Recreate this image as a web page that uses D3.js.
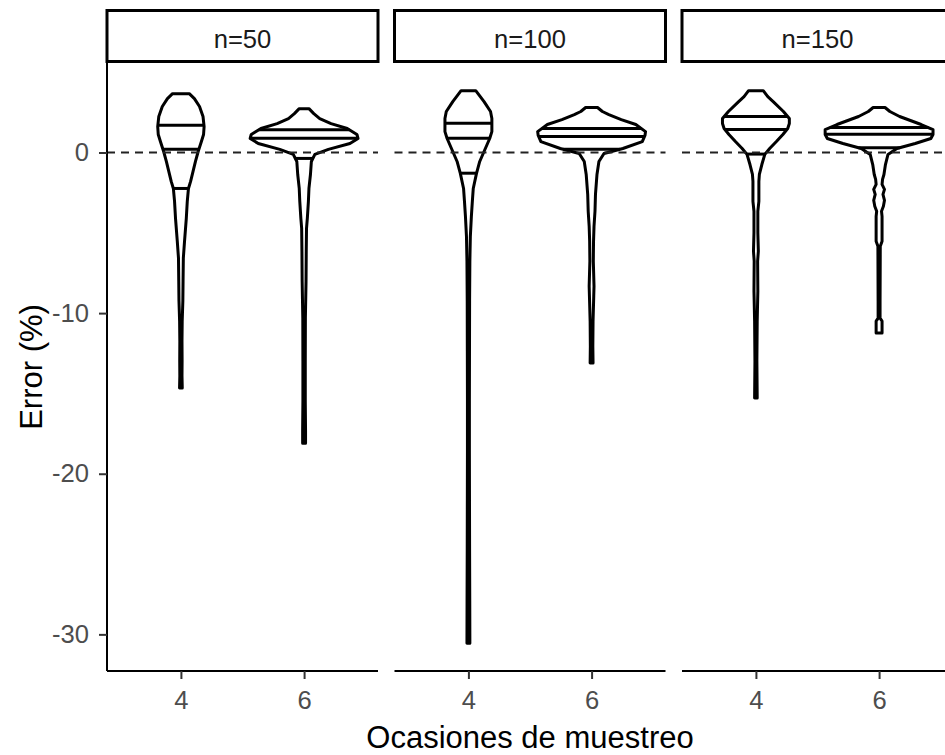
<!DOCTYPE html>
<html>
<head>
<meta charset="utf-8">
<script src="https://cdn.jsdelivr.net/npm/d3@7"></script>
<style>
  body { margin: 0; background: #fff; }
  text { font-family: "Liberation Sans", Arial, sans-serif; }
</style>
</head>
<body>
<svg id="chart" width="945" height="755"></svg>
<script>
// Facets (sample size) and x categories (sampling occasions)
const panels = ["n=50", "n=100", "n=150"];
const occasions = ["4", "6"];
const yTicks = [0, -10, -20, -30];

// Violin outlines: [error %, relative density (1 = widest violin)]
const profile_n50_4 = [[3.66,.155],[3.35,.25],[2.86,.345],[2.24,.41],[1.61,.43],[1.12,.42],[0.68,.38],[0.06,.32],[-0.56,.27],[-1.18,.225],[-1.80,.18],[-2.24,.14],[-3.04,.118],[-4.10,.10],[-5.53,.067],[-6.58,.045],[-8.01,.04],[-9.25,.036],[-10.5,.024],[-11.74,.02],[-12.98,.022],[-13.9,.02],[-14.66,.025]];
const profile_n50_6 = [[2.73,.09],[2.42,.18],[2.11,.29],[1.80,.50],[1.49,.80],[1.12,.98],[0.87,1.0],[0.56,.85],[0.19,.45],[-0.12,.20],[-0.56,.135],[-1.37,.118],[-2.24,.09],[-3.04,.08],[-4.10,.06],[-4.72,.045],[-6.15,.04],[-8.01,.036],[-10.31,.024],[-12.98,.022],[-15.47,.022],[-17.33,.027],[-18.1,.027]];
const profile_n100_4 = [[3.85,.136],[3.48,.22],[3.17,.29],[2.55,.41],[2.11,.435],[1.30,.435],[0.87,.395],[0.06,.29],[-0.56,.21],[-1.30,.15],[-2.24,.09],[-3.04,.073],[-3.98,.055],[-5.22,.036],[-6.77,.027],[-9.25,.022],[-12.36,.02],[-15.47,.018],[-18.57,.018],[-21.68,.02],[-24.78,.022],[-27.89,.025],[-30.56,.027]];
const profile_n100_6 = [[2.80,.11],[2.55,.20],[2.36,.32],[2.05,.55],[1.74,.82],[1.30,1.0],[1.06,.99],[0.68,.94],[0.25,.58],[-0.06,.23],[-0.56,.136],[-1.37,.10],[-2.61,.072],[-3.66,.063],[-4.60,.045],[-5.53,.036],[-6.77,.032],[-8.32,.045],[-8.94,.04],[-10.5,.027],[-12.05,.023],[-13.1,.027]];
const profile_n150_4 = [[3.85,.136],[3.48,.22],[3.17,.32],[2.55,.51],[2.11,.62],[1.80,.62],[1.49,.59],[1.12,.50],[0.68,.38],[0.25,.255],[-0.12,.165],[-0.75,.11],[-1.37,.064],[-1.80,.055],[-3.04,.055],[-3.66,.036],[-5.0,.036],[-6.15,.045],[-6.77,.032],[-8.63,.036],[-10.5,.024],[-12.98,.018],[-15.28,.024]];
const profile_n150_6 = [[2.80,.11],[2.55,.20],[2.24,.38],[1.99,.58],[1.74,.78],[1.43,1.0],[1.12,1.0],[0.87,.96],[0.56,.67],[0.25,.33],[-0.12,.165],[-0.75,.118],[-1.37,.09],[-1.68,.064],[-1.99,.055],[-2.30,.10],[-2.61,.072],[-2.98,.10],[-3.35,.08],[-3.66,.045],[-3.98,.055],[-5.53,.055],[-5.84,.022],[-9.25,.018],[-10.31,.018],[-10.5,.055],[-11.24,.055]];

// Quartiles (25%, 50%, 75%) drawn across each violin
const quant_n50_4 = [-2.24, 0.2, 1.7];
const quant_n50_6 = [-0.37, 0.89, 1.41];
const quant_n100_4 = [-1.29, 0.89, 1.82];
const quant_n100_6 = [0.2, 0.99, 1.49];
const quant_n150_4 = [-0.1, 1.43, 2.24];
const quant_n150_6 = [0.3, 1.14, 1.55];

const violins = [
  { panel: "n=50",  occ: "4", profile: profile_n50_4,  quant: quant_n50_4 },
  { panel: "n=50",  occ: "6", profile: profile_n50_6,  quant: quant_n50_6 },
  { panel: "n=100", occ: "4", profile: profile_n100_4, quant: quant_n100_4 },
  { panel: "n=100", occ: "6", profile: profile_n100_6, quant: quant_n100_6 },
  { panel: "n=150", occ: "4", profile: profile_n150_4, quant: quant_n150_4 },
  { panel: "n=150", occ: "6", profile: profile_n150_6, quant: quant_n150_6 }
];

// Layout
const panelLeft = 107, panelWidth = 271, panelGap = 16.5;
const panelTop = 63, panelBottom = 671;
const stripTop = 10.5, stripBottom = 61.5;
const lineW = 3;

const svg = d3.select("#chart");

const panelX = d3.scaleBand().domain(panels)
  .range([panelLeft, panelLeft + 3 * panelWidth + 2 * panelGap])
  .paddingInner(panelGap / (panelWidth + panelGap)).paddingOuter(0);

const x = d3.scalePoint().domain(occasions).range([0, panelWidth]).padding(0.6);
const w = d3.scaleLinear().domain([0, 1]).range([0, 0.45 * x.step() - lineW / 2]);

const allVals = violins.flatMap(v => v.profile.map(p => p[0]));
const [lo, hi] = d3.extent(allVals);
const pad = (hi - lo) * 0.05;
const y = d3.scaleLinear().domain([lo - pad, hi + pad]).range([panelBottom, panelTop]);

// density lookup for the quartile segments
function densityAt(profile, v) {
  const asc = profile.slice().reverse();
  const vs = asc.map(p => p[0]);
  const i = d3.bisectLeft(vs, v);
  if (i <= 0) return asc[0][1];
  if (i >= asc.length) return asc[asc.length - 1][1];
  const a = asc[i - 1], b = asc[i];
  return d3.interpolateNumber(a[1], b[1])((v - a[0]) / (b[0] - a[0]));
}

const outline = d3.line().x(d => d[0]).y(d => d[1]);

panels.forEach(p => {
  const g = svg.append("g").attr("transform", `translate(${panelX(p)},0)`);

  // strip
  g.append("rect")
    .attr("x", 0).attr("y", stripTop)
    .attr("width", panelWidth).attr("height", stripBottom - stripTop)
    .attr("fill", "#fff").attr("stroke", "#000").attr("stroke-width", 3);
  g.append("text")
    .attr("x", panelWidth / 2).attr("y", 39)
    .attr("dy", "0.36em").attr("text-anchor", "middle")
    .attr("font-size", 25.6).attr("fill", "#1A1A1A")
    .text(p);

  // violins
  violins.filter(v => v.panel === p).forEach(v => {
    const cx = x(v.occ);
    const left = v.profile.map(d => [cx - w(d[1]), y(d[0])]);
    const right = v.profile.slice().reverse().map(d => [cx + w(d[1]), y(d[0])]);
    g.append("path")
      .attr("d", outline(left.concat(right)) + "Z")
      .attr("fill", "#fff").attr("stroke", "#000")
      .attr("stroke-width", lineW).attr("stroke-linejoin", "round");
    v.quant.forEach(q => {
      const hw = w(densityAt(v.profile, q));
      g.append("line")
        .attr("x1", cx - hw).attr("x2", cx + hw)
        .attr("y1", y(q)).attr("y2", y(q))
        .attr("stroke", "#000").attr("stroke-width", lineW);
    });
  });

  // reference line at zero error
  g.append("line")
    .attr("x1", 0).attr("x2", panelWidth)
    .attr("y1", y(0)).attr("y2", y(0))
    .attr("stroke", "#222").attr("stroke-width", 2)
    .attr("stroke-dasharray", "8,6");

  // x axis
  const xa = g.append("g").attr("transform", `translate(0,${panelBottom})`)
    .call(d3.axisBottom(x).tickSize(8).tickPadding(12));
  xa.select(".domain").attr("stroke", "#000").attr("stroke-width", 2)
    .attr("d", `M0,0H${panelWidth}`);
  xa.selectAll(".tick line").attr("stroke", "#333").attr("stroke-width", 2);
  xa.selectAll(".tick text").attr("font-size", 25.6).attr("fill", "#4D4D4D")
    .attr("font-family", "Liberation Sans, Arial, sans-serif");
});

// y axis on the first panel
const ya = svg.append("g").attr("transform", `translate(${panelLeft},0)`)
  .call(d3.axisLeft(y).tickValues(yTicks).tickFormat(d => String(d)).tickSize(8).tickPadding(10));
ya.select(".domain").attr("stroke", "#000").attr("stroke-width", 2)
  .attr("d", `M0,${panelTop}V${panelBottom}`);
ya.selectAll(".tick line").attr("stroke", "#333").attr("stroke-width", 2);
ya.selectAll(".tick text").attr("font-size", 25.6).attr("fill", "#4D4D4D")
  .attr("font-family", "Liberation Sans, Arial, sans-serif");

// axis titles
const plotCenterX = panelLeft + (3 * panelWidth + 2 * panelGap) / 2;
svg.append("text")
  .attr("x", plotCenterX).attr("y", 748)
  .attr("text-anchor", "middle").attr("font-size", 31).attr("fill", "#000")
  .text("Ocasiones de muestreo");
svg.append("text")
  .attr("transform", `translate(42,${(panelTop + panelBottom) / 2}) rotate(-90)`)
  .attr("text-anchor", "middle").attr("font-size", 31).attr("fill", "#000")
  .text("Error (%)");
</script>
</body>
</html>
